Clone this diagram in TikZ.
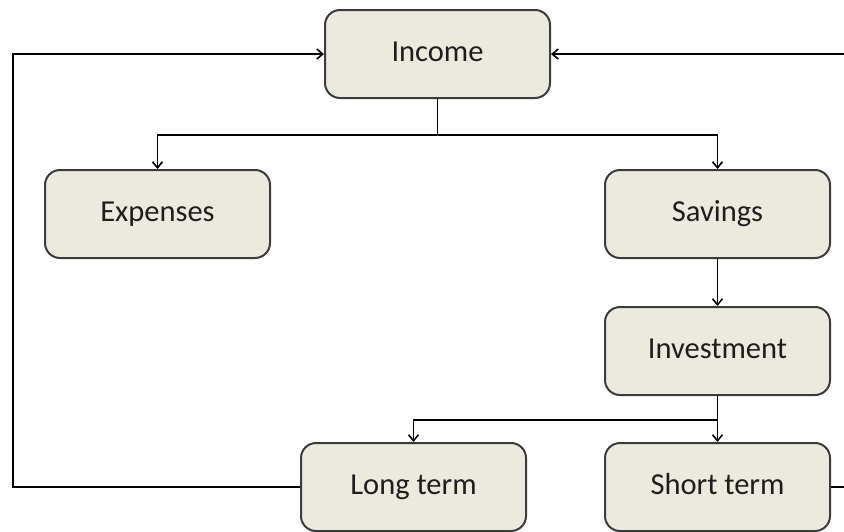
\documentclass[tikz,border=0pt]{standalone}
\usepackage{fontspec}
\setmainfont{Carlito}
\usetikzlibrary{arrows.meta}
\definecolor{boxfill}{HTML}{ECEADF}
\definecolor{boxline}{HTML}{3C3C3C}
\definecolor{textcol}{HTML}{1E1E1E}
\begin{document}
\begin{tikzpicture}[x=1pt,y=-1pt,
	stage/.style={draw=boxline,line width=2pt,fill=boxfill,rounded corners=15pt,
		minimum width=225pt,minimum height=88pt,text=textcol,
		text height=21pt,text depth=6pt,
		font=\fontsize{30.5}{36}\selectfont},
	link/.style={line width=1.8pt,black},
	arrow/.style={link,-{Straight Barb[length=6pt,width=10pt,line width=1.6pt]}}]
	\useasboundingbox (0,0) rectangle (844,531);
	
	\node[stage] (income) at (437.5,54) {Income};
	\node[stage] (expenses) at (157.5,214) {Expenses};
	\node[stage] (savings) at (717.5,214) {Savings};
	\node[stage] (investment) at (717.5,351) {Investment};
	\node[stage] (longterm) at (413.5,487) {Long term};
	\node[stage] (shortterm) at (717.5,487) {Short term};
	
	\coordinate (split1) at (437.5,135);
	\coordinate (split2) at (717.5,420);
	\coordinate (leftloop) at (13,487);
	\coordinate (rightloop) at (880,487);
	
	\draw[link] (income.south) -- (split1);
	\draw[arrow] (split1) -| (expenses.north);
	\draw[arrow] (split1) -| (savings.north);
	\draw[arrow] (savings) -- (investment);
	\draw[arrow] (investment) -- (shortterm);
	\draw[arrow] (split2) -| (longterm.north);
	
	\draw[arrow] (longterm.west) -- (leftloop) |- (income.west);
	\draw[arrow] (shortterm.east) -- (rightloop) |- (income.east);
	
\end{tikzpicture}
\end{document}
